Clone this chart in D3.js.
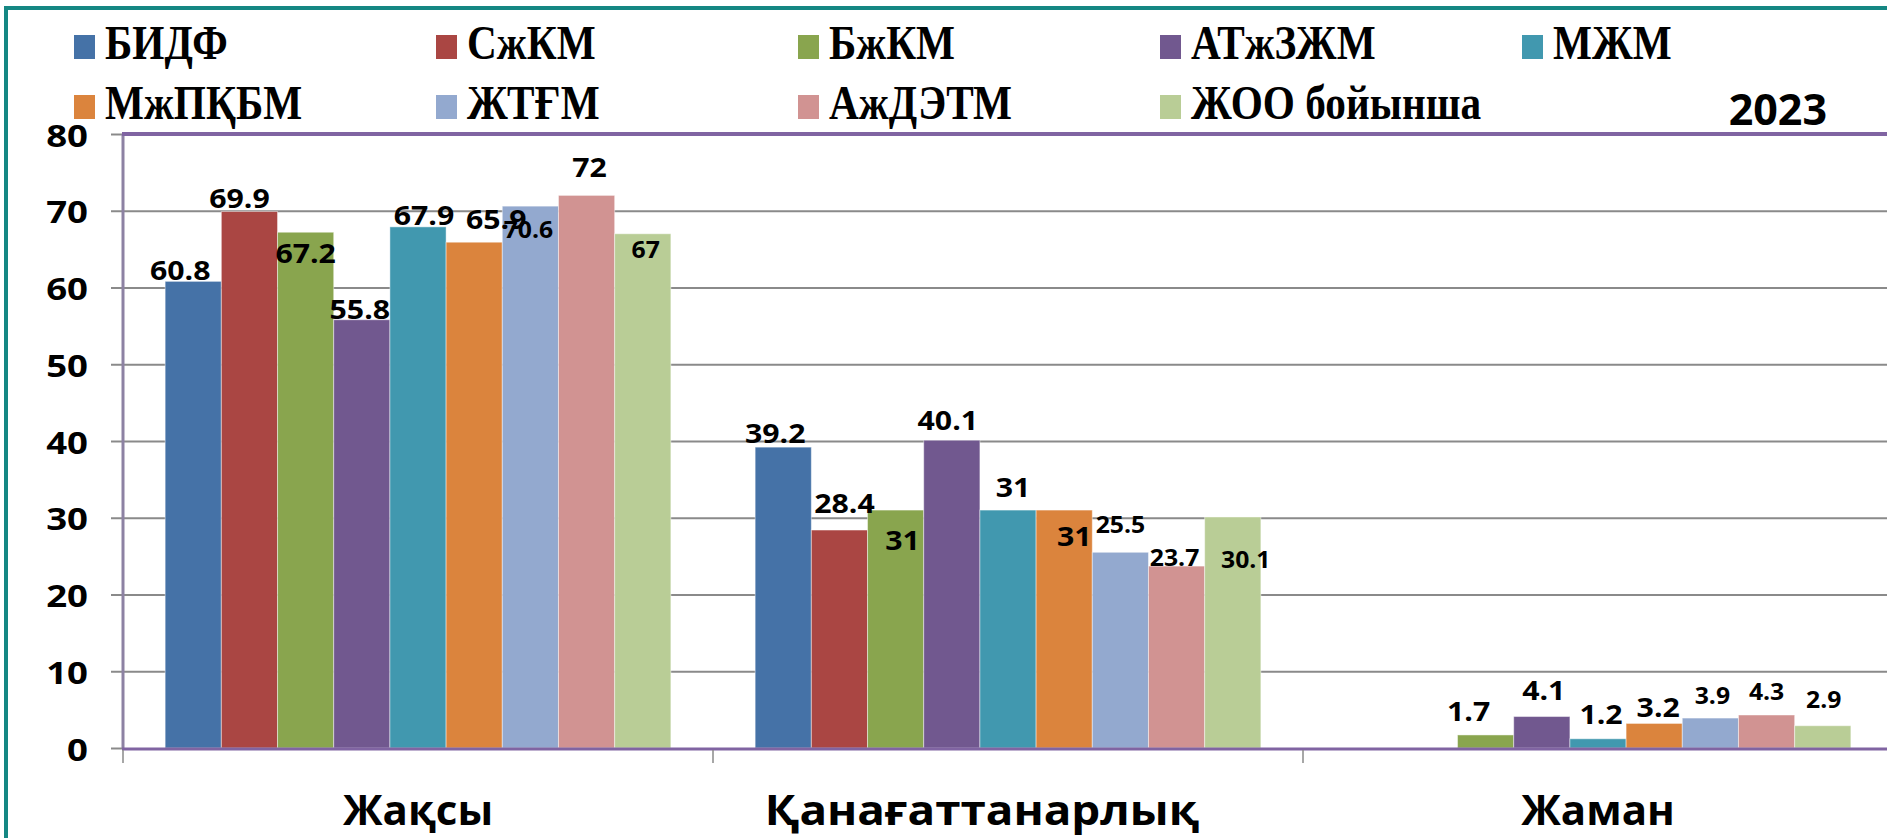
<!DOCTYPE html>
<html>
<head>
<meta charset="utf-8">
<script src="https://cdn.jsdelivr.net/npm/d3@7"></script>
<style>
  html, body { margin: 0; padding: 0; background: #fff; overflow: hidden; }
  svg { display: block; }
</style>
</head>
<body>
<div id="chart"></div>
<script>
// data
var categories = ["Жақсы", "Қанағаттанарлық", "Жаман"];
var seriesNames = ["БИДФ", "СжКМ", "БжКМ", "АТжЗЖМ", "МЖМ", "МжПҚБМ", "ЖТҒМ", "АжДЭТМ", "ЖОО бойынша"];
var seriesColors = ["#4572A7", "#AA4643", "#89A54E", "#71588F", "#4198AF", "#DB843D", "#93A9CF", "#D19392", "#B9CD96"];
var values = [
  [60.8, 39.2, null],
  [69.9, 28.4, null],
  [67.2, 31, 1.7],
  [55.8, 40.1, 4.1],
  [67.9, 31, 1.2],
  [65.9, 31, 3.2],
  [70.6, 25.5, 3.9],
  [72, 23.7, 4.3],
  [67, 30.1, 2.9]
];
var yTicks = [0, 10, 20, 30, 40, 50, 60, 70, 80];
var yearLabel = "2023";

// hand placed data labels in the original: [dx from bar centre, baseline offset from bar top, small?]
var labelNudge = [
  [[-13, -1, 0], [-8, -4, 0], null],
  [[-10, -4, 0], [5, -17, 0], null],
  [[0, 31, 0], [7, 40, 0], [-17, -14, 0]],
  [[-2, -1, 0], [-4, -10, 0], [2, -17, 0]],
  [[6, -2, 0], [5, -13, 0], [3, -15, 0]],
  [[22, -13, 0], [10, 36, 0], [4, -6, 0]],
  [[-2, 32, 1], [0, -19, 1], [2, -14, 1]],
  [[3, -18, 0], [-2, 0, 1], [0, -15, 1]],
  [[3, 24, 1], [13, 51, 1], [1, -18, 1]]
];

var width = 1887, height = 838;
var plotLeft = 123, plotTop = 134, plotBottom = 748, plotRight = 1893;

var svg = d3.select("#chart").append("svg")
  .attr("width", width)
  .attr("height", height);

// outer teal frame (right edge is cut off in the original)
svg.append("path")
  .attr("d", "M6," + height + "V8H" + width)
  .attr("fill", "none")
  .attr("stroke", "#158783")
  .attr("stroke-width", 4);

var x0 = d3.scaleBand().domain(categories).range([plotLeft, plotRight]).padding(0);
var x1 = d3.scaleBand().domain(d3.range(seriesNames.length))
  .range([0, x0.bandwidth()]).paddingInner(0).paddingOuter(0.75);
var y = d3.scaleLinear().domain([0, 80]).range([plotBottom, plotTop]);

// gridlines
svg.append("g")
  .attr("transform", "translate(" + plotLeft + ",0)")
  .call(d3.axisLeft(y).tickValues(yTicks.slice(1, -1)).tickSize(-(plotRight - plotLeft)).tickFormat(""))
  .call(function(g) {
    g.select(".domain").remove();
    g.selectAll("line").attr("stroke", "#8a8a8a").attr("stroke-width", 2);
  });

// y axis ticks + labels
svg.append("g")
  .attr("transform", "translate(" + plotLeft + ",0)")
  .call(d3.axisLeft(y).tickValues(yTicks).tickSize(12).tickPadding(0).tickFormat(d3.format("d")))
  .call(function(g) {
    g.select(".domain").remove();
    g.selectAll("line").attr("stroke", "#8a8a8a").attr("stroke-width", 2);
    g.selectAll("text")
      .attr("x", null).attr("dy", null)
      .attr("transform", "translate(-35,12) scale(1.18,1)")
      .attr("text-anchor", "end")
      .attr("fill", "#000")
      .style("font-family", "'Open Sans', sans-serif")
      .style("font-weight", "bold")
      .style("font-size", "31px");
  });

// bars
var points = [];
seriesNames.forEach(function(name, si) {
  values[si].forEach(function(v, ci) {
    if (v != null) points.push({ v: v, c: categories[ci], ci: ci, si: si });
  });
});

svg.append("g").selectAll("rect")
  .data(points)
  .enter().append("rect")
  .attr("x", function(p) { return x0(p.c) + x1(p.si); })
  .attr("y", function(p) { return y(p.v); })
  .attr("width", x1.bandwidth())
  .attr("height", function(p) { return y(0) - y(p.v); })
  .attr("fill", function(p) { return seriesColors[p.si]; })
  .attr("stroke", "rgba(255,255,255,0.45)")
  .attr("stroke-width", 1);

// plot frame: left, top, bottom
svg.append("line")
  .attr("x1", plotLeft).attr("x2", plotLeft)
  .attr("y1", plotTop).attr("y2", plotBottom)
  .attr("stroke", "#8d82a3").attr("stroke-width", 3);
svg.append("line")
  .attr("x1", plotLeft - 1).attr("x2", width)
  .attr("y1", plotTop).attr("y2", plotTop)
  .attr("stroke", "#8064A2").attr("stroke-width", 4);
svg.append("line")
  .attr("x1", plotLeft - 1).attr("x2", width)
  .attr("y1", plotBottom + 1).attr("y2", plotBottom + 1)
  .attr("stroke", "#8064A2").attr("stroke-width", 3);

// data labels drawn on top of every bar
svg.append("g").selectAll("text")
  .data(points)
  .enter().append("text")
  .attr("transform", function(p) {
    var n = labelNudge[p.si][p.ci];
    var cx = x0(p.c) + x1(p.si) + x1.bandwidth() / 2 + n[0];
    var by = y(p.v) + n[1];
    return "translate(" + cx + "," + by + ") scale(1.1,1)";
  })
  .attr("text-anchor", "middle")
  .attr("fill", "#000")
  .style("font-family", "'Open Sans', sans-serif")
  .style("font-weight", "bold")
  .style("font-size", function(p) { return labelNudge[p.si][p.ci][2] ? "22.5px" : "27.5px"; })
  .text(function(p) { return p.v; });

// category separators
svg.append("g").selectAll("line")
  .data(categories)
  .enter().append("line")
  .attr("x1", function(c) { return x0(c); })
  .attr("x2", function(c) { return x0(c); })
  .attr("y1", plotBottom + 2).attr("y2", plotBottom + 15)
  .attr("stroke", "#8a8a8a").attr("stroke-width", 1.5);

// category labels
svg.append("g")
  .attr("transform", "translate(0," + plotBottom + ")")
  .call(d3.axisBottom(x0).tickSize(0).tickPadding(0))
  .call(function(g) {
    g.select(".domain").remove();
    g.selectAll("text")
      .attr("y", null).attr("dy", null)
      .attr("transform", function(c) {
        return c === "Қанағаттанарлық" ? "translate(-26,77) scale(1.09,1)" : "translate(0,77)";
      })
      .attr("fill", "#000")
      .style("font-family", "'Open Sans', sans-serif")
      .style("font-weight", "bold")
      .style("font-size", "42px");
  });

// legend
var legend = svg.selectAll("g.legend")
  .data(seriesNames)
  .enter().append("g")
  .attr("class", "legend")
  .attr("transform", function(d, i) {
    return "translate(" + (74 + (i % 5) * 362) + "," + (59 + Math.floor(i / 5) * 60) + ")";
  });

legend.append("rect")
  .attr("x", 0).attr("y", -24)
  .attr("width", 21).attr("height", 24)
  .attr("fill", function(d, i) { return seriesColors[i]; });

legend.append("text")
  .attr("transform", "translate(31,0) scale(0.86,1)")
  .attr("fill", "#000")
  .style("font-family", "'Liberation Serif', 'DejaVu Serif', serif")
  .style("font-weight", "bold")
  .style("font-size", "48px")
  .text(function(d) { return d; });

svg.append("text")
  .attr("x", 1827).attr("y", 125)
  .attr("text-anchor", "end")
  .attr("fill", "#000")
  .style("font-family", "'Open Sans', sans-serif")
  .style("font-weight", "bold")
  .style("font-size", "43px")
  .text(yearLabel);
</script>
</body>
</html>
